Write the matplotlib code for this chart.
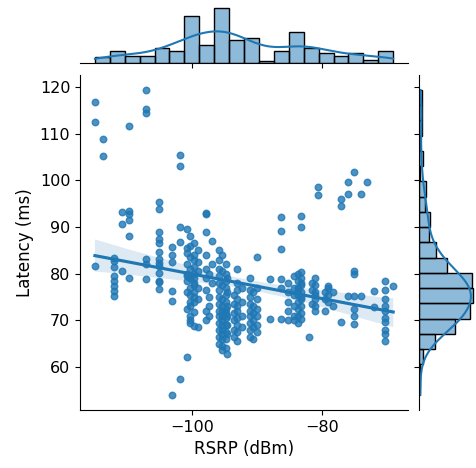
import matplotlib
matplotlib.use("Agg")
import matplotlib.pyplot as plt
import seaborn as sns
import numpy as np
import pandas as pd

# RSRP columns (dBm) and the latency readings (ms) observed at each
rsrp_cols = [-114.9, -113.6, -112.0, -110.8, -109.6, -107.0, -105.0, -103.0, -101.8,
             -100.8, -100.3, -99.7, -99.0, -97.8, -97.3, -96.9, -95.8, -95.3, -94.8,
             -94.5, -93.5, -93.0, -92.2, -91.0, -90.5, -90.0, -88.0, -86.2, -85.2,
             -84.3, -83.7, -83.2, -82.0, -81.5, -81.0, -80.6, -79.5, -79.0, -78.2,
             -77.1, -76.0, -75.1, -74.0, -73.1, -72.0, -70.2, -69.0]
latency_cols = [
    [116.8, 112.5, 81.6],
    [108.9, 105.2],
    [82.7, 81.4, 78.4, 76.3, 75.2, 83.4, 79.5, 77.3],
    [93.2, 90.6, 80.5],
    [111.6, 93.4, 92.8, 88.0, 91.5, 79.0],
    [119.4, 115.3, 114.4, 83.1, 82.0, 78.9],
    [95.4, 93.9, 89.0, 84.6, 83.2, 81.6, 78.3, 78.5, 86.5, 87.5, 82.2, 80.2, 76.8],
    [85.7, 82.5, 76.3, 74.1, 54.0, 84.0],
    [105.4, 103.1, 86.8, 57.4, 90.0],
    [89.6, 62.1, 84.5, 82.0, 80.0, 78.5, 76.0, 72.4, 85.5, 79.5],
    [88.0, 86.0, 83.5, 81.0, 79.0, 77.0, 75.5, 74.0, 73.0, 71.0, 70.0, 69.5],
    [86.5, 84.0, 83.0, 81.5, 80.0, 79.0, 77.5, 76.0, 73.9, 71.8, 68.8, 75.0, 78.0],
    [85.0, 82.5, 80.5, 77.0, 74.5, 68.6],
    [93.0, 88.9, 92.8, 84.0, 81.0, 79.0, 76.5, 72.0, 70.0],
    [80.0, 75.0, 73.0, 71.0],
    [87.0, 82.0, 78.0],
    [85.0, 83.0, 81.0, 79.5, 78.0, 76.5, 75.0, 73.5, 72.0, 71.0, 69.5, 68.0, 66.5, 65.0],
    [84.0, 80.5, 77.5, 74.5, 73.0, 72.0, 71.0, 70.0, 69.0, 68.0, 67.0, 66.0, 64.5, 63.5],
    [82.0, 80.0, 78.5, 77.0, 75.5, 74.0, 72.5, 71.5, 70.5, 69.0, 67.5, 66.0, 64.0],
    [79.0, 76.0, 73.0, 71.0, 69.0, 67.0, 62.8],
    [75.5, 73.5, 71.5, 70.0, 68.0, 66.5],
    [81.0, 78.0, 76.5, 74.5, 73.0, 72.0, 70.5, 69.0, 67.5, 65.5],
    [77.0, 74.0, 71.0, 68.5],
    [79.0, 76.5, 75.0, 73.5, 72.0, 71.0, 69.5, 68.0, 66.5],
    [76.0, 73.0, 71.5, 70.0, 68.5, 66.0],
    [83.6, 77.0, 74.5, 72.5, 71.0, 69.0, 67.5],
    [70.3, 78.9],
    [92.2, 89.2, 85.3, 78.9, 77.0, 70.3],
    [78.0, 74.0, 72.0, 76.0, 70.0],
    [79.5, 77.0, 75.5, 73.0, 71.0, 70.0],
    [80.0, 78.5, 77.0, 75.5, 74.0, 72.5, 71.0, 69.5, 76.5],
    [92.4, 90.0, 80.4, 79.0, 77.5, 76.0, 74.5, 73.0, 71.5, 70.3, 78.0, 75.0],
    [66.5],
    [78.0, 76.5, 73.5],
    [79.0, 77.5, 76.0, 74.5, 73.0, 72.0, 75.5],
    [98.6, 96.9],
    [76.0, 74.5, 72.0],
    [77.4, 77.0, 75.5, 74.0],
    [76.0, 73.0],
    [96.0, 94.5, 69.6],
    [99.6, 97.1, 75.2],
    [101.8, 80.6, 79.9, 75.2, 72.4, 69.2, 70.8],
    [97.1, 75.2],
    [99.6],
    [76.3, 72.9],
    [78.4, 74.6, 72.0, 69.6, 68.0, 65.6, 70.5, 76.5, 73.0, 67.0],
    [77.4],
]

rsrp = np.concatenate([[x] * len(ys) for x, ys in zip(rsrp_cols, latency_cols)])
latency = np.concatenate(latency_cols)
df = pd.DataFrame({'RSRP (dBm)': rsrp, 'Latency (ms)': latency})

g = sns.jointplot(data=df, x='RSRP (dBm)', y='Latency (ms)', kind='reg',
                  height=4.68, marginal_kws=dict(bins=20),
                  scatter_kws=dict(s=22))
g.figure.set_size_inches(4.76, 4.68)
g.figure.subplots_adjust(left=80/476, right=1.0, bottom=58/468, top=462.6/468)

ax = g.ax_joint
ax.set_xticks([-100, -80])
ax.set_yticks([60, 70, 80, 90, 100, 110, 120])
ax.tick_params(labelsize=11.5)
ax.set_xlabel('RSRP (dBm)', fontsize=12)
ax.set_ylabel('Latency (ms)', fontsize=12)

g.figure.savefig('out.png', dpi=100)
